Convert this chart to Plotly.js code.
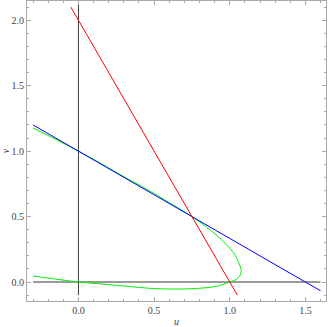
<!DOCTYPE html>
<html>
<head>
<meta charset="utf-8">
<script src="https://cdn.plot.ly/plotly-3.0.1.min.js"></script>
<style>
  html, body { margin: 0; padding: 0; background: #fff; }
  #graph1 { width: 328px; height: 327px; }
</style>
</head>
<body>
<div id="graph1"></div>
<script>
// red line v = 2 - 2u (end points)
var redU = [-0.05, 1.05];
var redV = [2.10, -0.10];

// blue line v = 1 - 2u/3
var blueU = [-0.30, 1.60];
var blueV = [1.20, -0.067];

// green curve, read point by point (upper branch, bend, lower branch)
var greenU = [-0.30, -0.15, 0.0, 0.15, 0.30, 0.45, 0.60, 0.75, 0.88, 0.97, 1.03, 1.062, 1.076, 1.068, 1.045, 1.0, 0.91, 0.80, 0.69, 0.58, 0.47, 0.30, 0.15, 0.0, -0.15, -0.30];
var greenV = [1.177, 1.09, 1.0, 0.905, 0.805, 0.71, 0.607, 0.50, 0.39, 0.295, 0.215, 0.14, 0.09, 0.05, 0.022, 0.0, -0.033, -0.048, -0.053, -0.053, -0.048, -0.030, -0.015, 0.0, 0.022, 0.046];

// coordinate axes drawn inside the frame
var hAxisU = [-0.30, 1.60];
var hAxisV = [0, 0];
var vAxisU = [0, 0];
var vAxisV = [-0.10, 2.15];

var tickVals = [0, 0.5, 1.0, 1.5, 2.0];
var tickText = ['0.0', '0.5', '1.0', '1.5', '2.0'];

function plotPhase() {
    var traces = [
        {x: hAxisU, y: hAxisV, mode: 'lines', line: {color: '#9a9a9a', width: 2}},
        {x: vAxisU, y: vAxisV, mode: 'lines', line: {color: '#3c3c3c', width: 1}},
        {x: greenU, y: greenV, mode: 'lines', line: {color: '#00ee00', width: 1, shape: 'spline', smoothing: 0.8}},
        {x: blueU, y: blueV, mode: 'lines', line: {color: '#0000ff', width: 1}},
        {x: redU, y: redV, mode: 'lines', line: {color: '#ff0000', width: 1}}
    ];

    var axisCommon = {
        showgrid: false,
        zeroline: false,
        showline: true,
        linecolor: '#a8a8a8',
        linewidth: 1,
        mirror: 'ticks',
        ticks: 'inside',
        ticklen: 4,
        tickwidth: 1,
        tickcolor: '#a8a8a8',
        tickvals: tickVals,
        ticktext: tickText,
        tickfont: {family: 'Liberation Serif', size: 10, color: '#444'},
        minor: {dtick: 0.1, ticks: 'inside', ticklen: 2, tickcolor: '#a8a8a8', showgrid: false}
    };

    var layout = {
        width: 328,
        height: 327,
        showlegend: false,
        paper_bgcolor: '#fff',
        plot_bgcolor: '#fff',
        margin: {l: 27, r: 2, t: 1, b: 26, pad: 0},
        xaxis: Object.assign({}, axisCommon, {
            range: [-0.34, 1.636],
            title: {text: '<i>u</i>', font: {family: 'Liberation Serif', size: 10, color: '#444'}, standoff: 4}
        }),
        yaxis: Object.assign({}, axisCommon, {
            range: [-0.145, 2.147],
            title: {text: '<i>v</i>', font: {family: 'Liberation Serif', size: 10, color: '#444'}, standoff: 8}
        })
    };

    Plotly.newPlot('graph1', traces, layout, {staticPlot: true});
}
plotPhase();
</script>
</body>
</html>
